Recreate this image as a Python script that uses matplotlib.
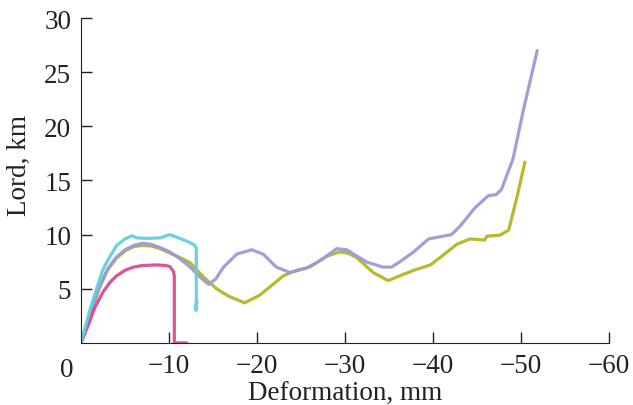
import numpy as np
import matplotlib.pyplot as plt

plt.rcParams['font.family'] = ['Liberation Serif', 'DejaVu Serif']

# curve data (deformation mm, load)
cyan_x = [0, -1, -2, -2.5, -3.3, -4.05, -5, -5.8, -6.3, -7.5, -9.0, -10.1, -10.9, -12.0, -12.8, -13.1, -13.1, -13.05, -13.15, -13.1]
cyan_y = [0, 3.0, 5.6, 6.8, 8.0, 9.0, 9.6, 9.9, 9.7, 9.65, 9.7, 10.0, 9.75, 9.4, 9.1, 8.8, 4.0, 3.0, 3.8, 3.4]

pink_x = [0, -0.8, -1.6, -2.5, -3.3, -4.05, -5.0, -5.95, -7.0, -8.6, -9.6, -10.1, -10.5, -10.6, -10.6, -10.7, -12.0]
pink_y = [0, 1.6, 3.3, 4.7, 5.6, 6.2, 6.7, 7.0, 7.15, 7.2, 7.15, 7.05, 6.6, 6.2, 0.0, 0.0, 0.0]

purple_x = [0, -1, -2, -3, -4, -5, -6, -7, -8, -9, -10.1, -11.2, -12.4, -13.5, -14.5, -15.3, -16.2, -17.7, -19.4,
            -20.7, -22.2, -23.75, -25.6, -27.2, -29.05, -30.2, -31.2, -32.5, -34.35, -35.3, -36.25, -37.8, -39.5,
            -42.1, -43.1, -44.8, -46.3, -47.2, -47.8, -49.1, -50.3, -51.85]
purple_y = [0, 2.5, 5.0, 6.8, 7.9, 8.6, 9.0, 9.2, 9.1, 8.8, 8.4, 7.8, 7.0, 6.1, 5.4, 5.9, 7.0, 8.2, 8.6,
            8.2, 7.0, 6.5, 6.9, 7.6, 8.7, 8.6, 8.1, 7.45, 7.0, 7.0, 7.5, 8.4, 9.6,
            10.0, 10.8, 12.5, 13.6, 13.7, 14.2, 17.0, 21.6, 27.0]

olive_x = [0, -1, -2, -3, -4, -5, -6, -7, -8, -9, -10.1, -11.2, -12.4, -13.9, -15.4, -16.8, -18.6, -20.3, -21.8,
           -23.0, -24.5, -26.0, -27.9, -29.4, -30.3, -31.3, -33.2, -34.9, -36.25, -37.8, -39.7, -41.0, -42.7,
           -44.2, -45.9, -46.1, -47.6, -48.6, -49.5, -50.45]
olive_y = [0, 2.4, 4.9, 6.7, 7.8, 8.5, 8.9, 9.0, 8.95, 8.7, 8.3, 7.9, 7.4, 6.1, 5.0, 4.3, 3.7, 4.4, 5.4,
           6.2, 6.7, 7.0, 8.0, 8.4, 8.3, 7.9, 6.5, 5.75, 6.2, 6.7, 7.2, 8.0, 9.1,
           9.6, 9.5, 9.85, 9.95, 10.4, 13.3, 16.7]

x_ticks = [-10, -20, -30, -40, -50, -60]
y_ticks = [5, 10, 15, 20, 25, 30]

fig = plt.figure(figsize=(6.33, 4.06), dpi=100)
ax = fig.add_axes([0.128, 0.153, 0.834, 0.800])

lw = 2.3
kw = dict(lw=lw, alpha=0.95, solid_joinstyle='round', solid_capstyle='round')
ax.plot(olive_x, olive_y, color='#b5b526', **kw)
ax.plot(purple_x, purple_y, color='#9c9ad8', **kw)
ax.plot(pink_x, pink_y, color='#db4a92', **kw)
ax.plot(cyan_x, cyan_y, color='#63cfdd', **kw)

ax.set_xlim(0, -60)
ax.set_ylim(0, 30)
ax.set_xticks(x_ticks)
ax.set_xticklabels(['\u2212%d' % abs(v) for v in x_ticks])
ax.set_yticks(y_ticks)
ax.tick_params(direction='in', length=8, width=1, labelsize=19.5, pad=7, color='#222222', labelcolor='#222222')
ax.text(-0.027, -0.045, '0', transform=ax.transAxes, ha='center', va='top', fontsize=19.5, color='#222222')

for s in ['top', 'right']:
    ax.spines[s].set_visible(False)
for s in ['left', 'bottom']:
    ax.spines[s].set_color('#222222')

ax.set_xlabel('Deformation, mm', fontsize=19.5, color='#222222', labelpad=2.5)
ax.set_ylabel('Lord, km', fontsize=19.5, color='#222222')
ax.yaxis.set_label_coords(-0.093, 0.548)

fig.savefig('out.png', dpi=100)
